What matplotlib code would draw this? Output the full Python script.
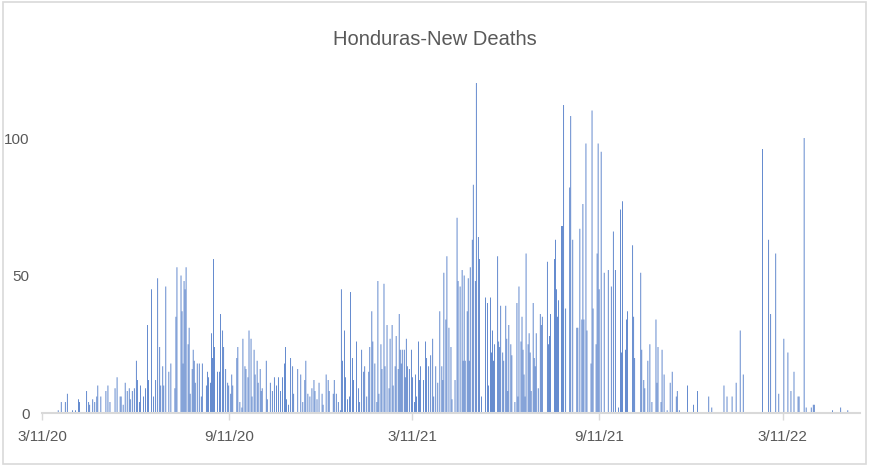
import pandas as pd
import matplotlib.pyplot as plt
from matplotlib.patches import Rectangle

start_date = pd.Timestamp('2020-03-11')

# days since 3/11/20 and the new deaths reported on that day
day = [
    16, 19, 23, 25, 30, 33, 36, 37, 44, 46, 47, 50, 52, 54, 55, 58, 63, 65, 67, 72,
    74, 77, 78, 80, 82, 84, 86, 87, 89, 91, 93, 94, 96, 97, 100, 102, 104, 105, 108, 110,
    112, 114, 116, 117, 119, 120, 122, 125, 127, 131, 132, 133, 137, 138, 139, 140, 141, 142, 144, 145,
    146, 148, 149, 150, 151, 153, 155, 157, 158, 162, 163, 164, 166, 167, 168, 169, 170, 173, 175, 176,
    178, 179, 181, 183, 184, 186, 187, 188, 192, 193, 195, 197, 198, 200, 201, 203, 204, 206, 207, 209,
    210, 212, 213, 215, 216, 217, 221, 222, 225, 227, 229, 231, 233, 235, 237, 239, 240, 241, 243, 245,
    247, 248, 252, 255, 257, 259, 260, 262, 264, 266, 268, 269, 271, 273, 276, 277, 280, 282, 283, 287,
    288, 290, 292, 294, 295, 296, 298, 299, 301, 303, 304, 306, 307, 310, 312, 313, 315, 317, 318, 320,
    322, 323, 325, 326, 328, 330, 331, 332, 334, 335, 337, 338, 340, 342, 343, 345, 346, 348, 349, 351,
    352, 353, 354, 355, 357, 358, 359, 360, 362, 364, 365, 367, 368, 369, 371, 372, 373, 376, 378, 379,
    381, 383, 385, 386, 388, 390, 392, 394, 395, 396, 398, 399, 401, 403, 404, 407, 409, 410, 412, 414,
    415, 416, 417, 419, 420, 421, 422, 424, 425, 427, 428, 430, 431, 433, 437, 439, 440, 442, 443, 444,
    445, 446, 449, 450, 451, 452, 454, 455, 457, 458, 459, 460, 462, 463, 466, 468, 469, 470, 472, 473,
    474, 475, 476, 477, 479, 480, 481, 482, 484, 485, 486, 487, 489, 491, 492, 493, 498, 499, 500, 501,
    505, 506, 507, 508, 509, 512, 513, 514, 516, 520, 521, 523, 527, 528, 530, 532, 533, 534, 536, 537,
    541, 542, 543, 546, 547, 548, 549, 551, 554, 558, 561, 563, 565, 568, 570, 571, 572, 575, 576, 577,
    582, 583, 584, 590, 591, 593, 594, 597, 599, 601, 605, 606, 607, 610, 611, 613, 616, 619, 621, 625,
    626, 628, 636, 642, 646, 657, 660, 672, 675, 680, 684, 688, 691, 710, 716, 718, 723, 726, 731, 735,
    738, 741, 745, 746, 751, 753, 758, 760, 761, 779, 787, 794,
]
deaths = [
    1, 4, 4, 7, 1, 1, 5, 4, 8, 4, 3, 5, 4, 6, 10, 6, 8, 10, 4, 9,
    13, 6, 6, 3, 11, 8, 9, 5, 8, 9, 19, 12, 4, 10, 6, 9, 32, 12, 45, 6,
    12, 49, 24, 10, 17, 10, 46, 15, 18, 9, 35, 53, 50, 37, 18, 48, 45, 53, 25, 31,
    7, 16, 23, 19, 11, 18, 18, 6, 18, 10, 15, 13, 11, 29, 20, 56, 24, 15, 15, 36,
    30, 24, 16, 11, 10, 7, 14, 10, 20, 24, 4, 2, 27, 17, 16, 13, 30, 27, 6, 23,
    14, 19, 11, 16, 8, 9, 19, 5, 11, 8, 13, 10, 13, 8, 13, 18, 24, 5, 3, 20,
    17, 7, 16, 14, 4, 12, 19, 7, 6, 9, 12, 8, 5, 11, 7, 3, 14, 12, 8, 7,
    12, 7, 4, 1, 45, 19, 30, 13, 5, 6, 44, 20, 12, 26, 9, 4, 23, 15, 17, 6,
    15, 24, 37, 26, 18, 4, 48, 7, 25, 16, 47, 17, 32, 9, 27, 32, 10, 17, 28, 16,
    36, 23, 18, 23, 23, 13, 27, 17, 16, 23, 13, 4, 14, 6, 26, 12, 17, 12, 26, 20,
    17, 21, 27, 6, 17, 11, 37, 17, 12, 51, 34, 57, 31, 24, 5, 12, 71, 48, 46, 52,
    19, 50, 19, 37, 49, 19, 53, 63, 83, 48, 120, 64, 56, 6, 42, 40, 10, 42, 22, 30,
    19, 25, 57, 26, 24, 39, 22, 19, 39, 27, 8, 32, 25, 21, 4, 40, 6, 46, 26, 35,
    23, 14, 6, 58, 25, 29, 22, 8, 40, 20, 17, 29, 9, 36, 32, 35, 55, 25, 28, 36,
    56, 63, 45, 35, 41, 68, 68, 112, 38, 82, 108, 63, 31, 31, 67, 34, 76, 34, 98, 30,
    18, 110, 38, 25, 58, 98, 45, 95, 51, 52, 46, 66, 52, 2, 74, 22, 77, 23, 34, 37,
    61, 35, 20, 51, 23, 12, 9, 19, 25, 4, 34, 11, 24, 4, 23, 14, 1, 11, 15, 6,
    8, 1, 10, 3, 8, 6, 2, 10, 6, 6, 11, 30, 14, 96, 63, 36, 58, 7, 27, 22,
    8, 15, 6, 6, 100, 2, 2, 3, 3, 1, 2, 1,
]

tick_dates = ['2020-03-11', '2020-09-11', '2021-03-11', '2021-09-11', '2022-03-11']
tick_labels = ['3/11/20', '9/11/20', '3/11/21', '9/11/21', '3/11/22']

font = 'Liberation Sans'
grey = '#595959'


def main():
    dates = start_date + pd.to_timedelta(day, unit='D')

    fig = plt.figure(figsize=(8.69, 4.67), dpi=100)
    ax = fig.add_axes([0.0483, 0.1156, 0.9413, 0.7361])

    # thinner than a pixel, so no snapping or half of them vanish
    bars = ax.bar(dates, deaths, width=0.8, color='#4472C4', linewidth=0)
    for b in bars:
        b.set_snap(False)

    ax.set_xlim(start_date, start_date + pd.Timedelta(days=806))
    ax.set_ylim(0, 125)
    ax.set_yticks([0, 50, 100])
    ax.set_xticks(pd.to_datetime(tick_dates))
    ax.set_xticklabels(tick_labels)

    for side in ['top', 'right', 'left']:
        ax.spines[side].set_visible(False)
    ax.spines['bottom'].set_color('#D9D9D9')
    ax.spines['bottom'].set_linewidth(1.5)

    ax.tick_params(axis='y', length=0, pad=9, labelsize=11, labelcolor=grey)
    ax.tick_params(axis='x', length=5, width=1, color='#D9D9D9', pad=7,
                   labelsize=11, labelcolor=grey)
    for lbl in ax.get_xticklabels() + ax.get_yticklabels():
        lbl.set_family(font)

    fig.text(0.5, 0.915, 'Honduras-New Deaths', ha='center', va='center',
             fontsize=14.5, color=grey, family=font)

    # light border round the whole chart
    fig.patches.append(Rectangle((0.003, 0.006), 0.994, 0.99, transform=fig.transFigure,
                                 fill=False, edgecolor='#D9D9D9', linewidth=1.2))

    fig.savefig('out.png', dpi=100)


main()
